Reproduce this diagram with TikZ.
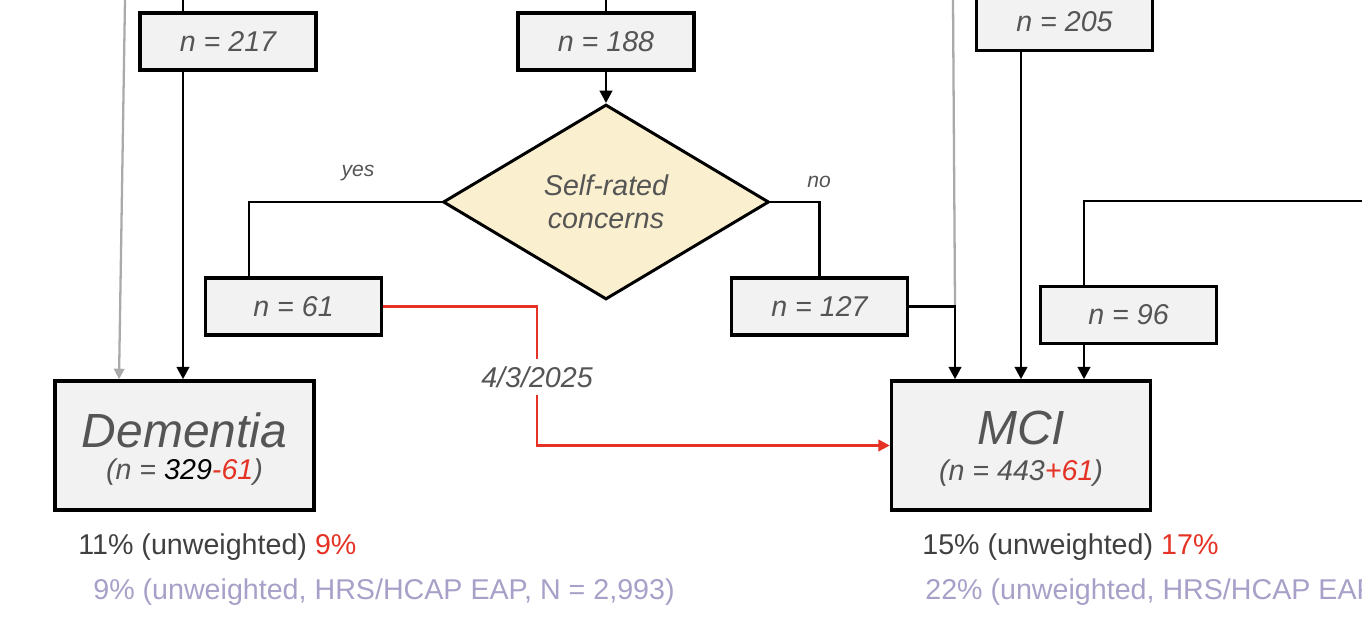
\documentclass[tikz,border=0pt]{standalone}
\usepackage{fontspec}
\setmainfont{Liberation Sans}
\usepackage{xcolor}
\usepackage{tikz}
\usetikzlibrary{arrows.meta, positioning, shapes.geometric}
\definecolor{txtgray}{RGB}{85,85,85}
\definecolor{pcgray}{RGB}{64,64,64}
\definecolor{boxfill}{RGB}{242,242,242}
\definecolor{condfill}{RGB}{250,239,206}
\definecolor{redline}{RGB}{229,50,36}
\definecolor{purpletxt}{RGB}{168,160,200}
\definecolor{grayline}{RGB}{170,170,170}

\begin{document}
\begin{tikzpicture}[x=0.02cm, y=-0.02cm,
  countbox/.style={draw=black, line width=2pt, fill=boxfill, minimum width=3.52cm,
    minimum height=1.14cm, inner sep=0pt, text=txtgray, font=\fontsize{16.3}{19}\selectfont\itshape},
  outcome/.style={draw=black, line width=2pt, fill=boxfill, minimum width=5.18cm,
    minimum height=2.58cm, inner sep=0pt},
  bigname/.style={text=txtgray, inner sep=0pt, font=\fontsize{27.3}{30}\selectfont\itshape},
  bigcount/.style={text=txtgray, inner sep=0pt, font=\fontsize{16.3}{19}\selectfont\itshape},
  cond/.style={diamond, draw=black, line width=1.7pt, fill=condfill, aspect=1.67,
    minimum width=6.52cm, minimum height=3.9cm, inner sep=0pt, text=txtgray,
    align=center, font=\fontsize{16.3}{18.5}\selectfont\itshape},
  branchlbl/.style={text=txtgray, font=\fontsize{12}{14}\selectfont\itshape},
  datelbl/.style={fill=white, text=txtgray, inner sep=4pt, font=\fontsize{16.3}{19}\selectfont\itshape},
  pctline/.style={anchor=west, inner sep=0pt, text=pcgray, font=\fontsize{16.3}{19}\selectfont},
  refline/.style={anchor=west, inner sep=0pt, text=purpletxt, font=\fontsize{16.3}{19}\selectfont},
  link/.style={line width=1.6pt},
  flow/.style={line width=1.6pt, -{Triangle[length=7pt,width=7pt]}},
  grayflow/.style={grayline, line width=1.3pt, -{Triangle[length=6pt,width=6pt]}},
  redflow/.style={redline, line width=1.4pt, -{Triangle[length=6.5pt,width=6.5pt]}}]

\useasboundingbox (0,0) rectangle (1362,624);
\clip (0,0) rectangle (1362,624);

\node[countbox] (b217) at (228,41.5) {n = 217};
\node[countbox] (b188) at (606,41.5) {n = 188};
\node[countbox] (b205) at (1064.5,22) {n = 205};
\node[cond] (concern) at (606,202) {Self-rated\\concerns};
\node[countbox] (b61) at (293.5,306.5) {n = 61};
\node[countbox] (b127) at (819.5,306.5) {n = 127};
\node[countbox] (b96) at (1128.5,315) {n = 96};

\node[outcome] (dem) at (184.5,445.5) {};
\node[bigname] (demname) at (184.5,430) {Dementia};
\node[bigcount] (demcount) at (184.5,472) {(n = {\color{black}329}{\color{redline}-61})};
\node[outcome] (mci) at (1021,445.5) {};
\node[bigname] (mciname) at (1021,428) {MCI};
\node[bigcount] (mcicount) at (1021,473) {(n = 443{\color{redline}+61})};

\node[branchlbl] (yes) at (358,173) {yes};
\node[branchlbl] (no) at (819,182) {no};

\coordinate (g1) at (125,0);
\coordinate (g2) at (953,0);
\coordinate (in217) at (183,0);
\coordinate (in188) at (606,0);
\coordinate (in96) at (1362,201);
\coordinate (mcijoin) at ([xshift=-1.32cm]mci.north);
\coordinate (j96) at ([xshift=-0.89cm]b96.south);
\coordinate (redturn) at (537,445.5);

\draw[grayflow] (g1) -- ([xshift=-1.31cm]dem.north);
\draw[grayline, line width=1.3pt] (g2) -- (mcijoin |- b127.east);

\draw[link] (in217) -- (in217 |- b217.north);
\draw[flow] (in217 |- b217.south) -- (in217 |- dem.north);
\draw[link] (in188) -- (b188.north);
\draw[flow] (b188.south) -- (concern.north);
\draw[link] (concern.west) -| ([xshift=-0.89cm]b61.north);
\draw[link] (concern.east) -| (b127.north);
\draw[flow] (b127.east) -| (mcijoin);
\draw[flow] (b205.south -| mci.north) -- (mci.north);
\draw[link] (in96) -| ([xshift=-0.89cm]b96.north);
\draw[flow] (j96) -- (j96 |- mci.north);

\draw[redflow] (b61.east) -- (b61.east -| redturn) -- (redturn) -- (mci.west);
\node[datelbl] (date) at (537,377) {4/3/2025};

\node[pctline] (dempct) at (78,547) {11\% (unweighted) {\color{redline}9\%}};
\node[refline] (demref) at (93,592) {9\% (unweighted, HRS/HCAP EAP, N = 2,993)};
\node[pctline] (mcipct) at (922,547) {15\% (unweighted) {\color{redline}17\%}};
\node[refline] (mciref) at (925,592) {22\% (unweighted, HRS/HCAP EAP};
\end{tikzpicture}
\end{document}
